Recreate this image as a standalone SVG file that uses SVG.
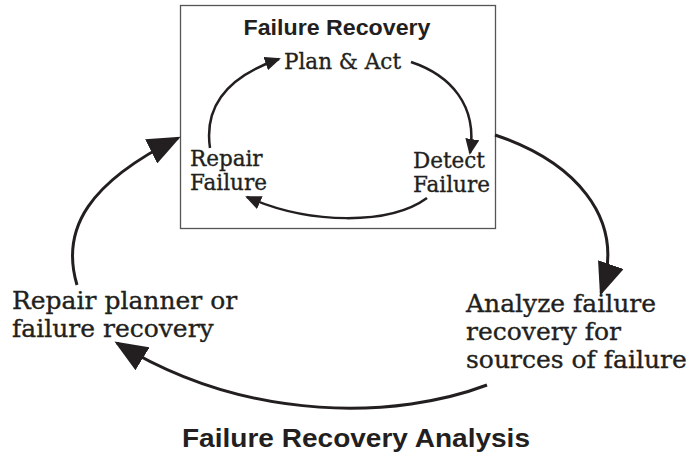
<svg xmlns="http://www.w3.org/2000/svg" width="689" height="456" viewBox="0 0 689 456">
<style>
.serif{font-family:"DejaVu Serif","Liberation Serif",serif;fill:#231f20;stroke:#231f20;stroke-width:0.35}
.inner{font-size:21.5px}
.outer{font-size:25px}
.sans{font-family:"Liberation Sans",Arial,sans-serif;font-weight:bold;fill:#231f20}
.ln{fill:none;stroke:#231f20}
.thin{stroke-width:2.5}
.thick{stroke-width:3}
</style>
<defs>
<marker id="ahs" markerUnits="userSpaceOnUse" markerWidth="17" markerHeight="14" refX="14" refY="7" orient="auto">
<path d="M0,0 L16,7 L0,14 z" fill="#231f20"/>
</marker>
<marker id="ahl" markerUnits="userSpaceOnUse" markerWidth="34" markerHeight="27" refX="30" refY="13.5" orient="auto">
<path d="M0,0 L33,13.5 L0,27 z" fill="#231f20"/>
</marker>
</defs>
<rect width="689" height="456" fill="#fff"/>
<g id="box">
<rect x="180.5" y="5.5" width="315" height="223" fill="none" stroke="#555" stroke-width="1.3"/>
<text class="sans" x="337" y="35" font-size="22" text-anchor="middle" textLength="187" lengthAdjust="spacingAndGlyphs">Failure Recovery</text>
</g>
<g id="plan-act"><text class="serif inner" x="284" y="69">Plan &amp; Act</text></g>
<g id="repair-failure"><text class="serif inner" x="190" y="166">Repair</text><text class="serif inner" x="190" y="190">Failure</text></g>
<g id="detect-failure"><text class="serif inner" x="413" y="168">Detect</text><text class="serif inner" x="413" y="192">Failure</text></g>
<g id="repair-planner"><text class="serif outer" x="12" y="309">Repair planner or</text><text class="serif outer" x="12" y="337">failure recovery</text></g>
<g id="analyze"><text class="serif outer" x="466" y="312">Analyze failure</text><text class="serif outer" x="466" y="340">recovery for</text><text class="serif outer" x="466" y="368">sources of failure</text></g>
<g id="analysis-title"><text class="sans" x="356" y="447" font-size="25" text-anchor="middle" textLength="348" lengthAdjust="spacingAndGlyphs">Failure Recovery Analysis</text></g>
<g id="connectors">
<path class="ln thin" d="M210,148 C203,100 235,74 279,59" marker-end="url(#ahs)"/>
<path class="ln thin" d="M411,62 C450,75 478,105 470,153" marker-end="url(#ahs)"/>
<path class="ln thin" d="M427,198 C390,225 310,225 247,197" marker-end="url(#ahs)"/>
<path class="ln thick" d="M495,135 C570,160 628,215 601,293" marker-end="url(#ahl)"/>
<path class="ln thick" d="M487,385 C400,418 250,425 117,343" marker-end="url(#ahl)"/>
<path class="ln thick" d="M77,285 C60,228 90,182 178,138" marker-end="url(#ahl)"/>
</g>
</svg>
